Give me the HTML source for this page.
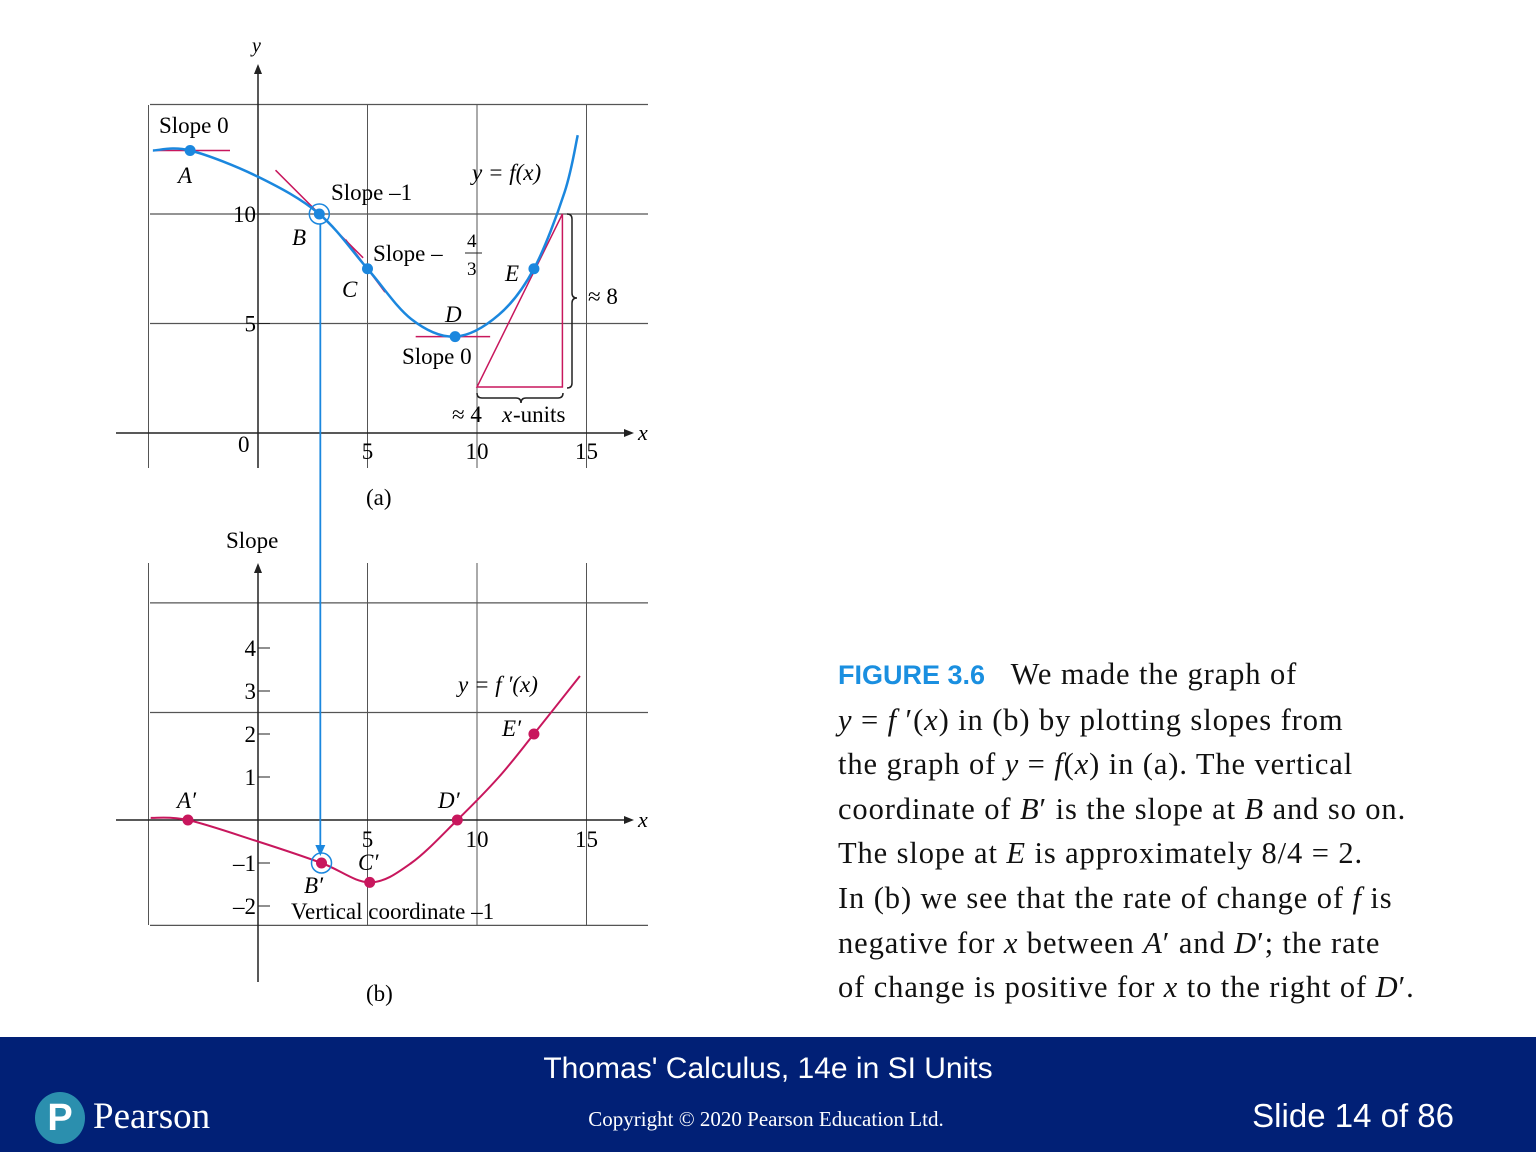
<!DOCTYPE html>
<html><head><meta charset="utf-8">
<style>
html,body{margin:0;padding:0;background:#fff;}
body{width:1536px;height:1152px;position:relative;overflow:hidden;font-family:"Liberation Serif",serif;}
svg text{font-family:"Liberation Serif",serif;}
#footer{position:absolute;left:0;top:1037px;width:1536px;height:115px;background:#012076;}
.cap{position:absolute;left:838px;top:652px;font-size:30.5px;letter-spacing:0.9px;line-height:44.6px;color:#111;white-space:nowrap;}
</style></head><body>
<svg id="chart" width="1536" height="1040" style="position:absolute;left:0;top:0">
<g id="gA"></g><g id="gB"></g>
</svg>
<div class="cap"><span style="font-family:'Liberation Sans',sans-serif;font-weight:bold;color:#1a8fe0;font-size:27px;letter-spacing:0">FIGURE 3.6</span>&nbsp;&nbsp;&nbsp;We made the graph of<br><i>y</i> = <i>f</i> ′(<i>x</i>) in (b) by plotting slopes from<br>the graph of <i>y</i> = <i>f</i>(<i>x</i>) in (a). The vertical<br>coordinate of <i>B</i>′ is the slope at <i>B</i> and so on.<br>The slope at <i>E</i> is approximately 8/4 = 2.<br>In (b) we see that the rate of change of <i>f</i> is<br>negative for <i>x</i> between <i>A</i>′ and <i>D</i>′; the rate<br>of change is positive for <i>x</i> to the right of <i>D</i>′.</div>
<div id="footer">
<div style="position:absolute;left:0;width:1536px;top:15px;text-align:center;color:#fff;font-family:'Liberation Sans',sans-serif;font-size:30px">Thomas' Calculus, 14e in SI Units</div>
<div style="position:absolute;left:0;width:1532px;top:70px;text-align:center;color:#fff;font-size:21px">Copyright © 2020 Pearson Education Ltd.</div>
<div style="position:absolute;right:82px;top:60px;color:#fff;font-family:'Liberation Sans',sans-serif;font-size:33px">Slide 14 of 86</div>
<div style="position:absolute;left:35px;top:55px;width:50px;height:52px;border-radius:50%;background:#2b8fae;color:#fff;font-family:'Liberation Sans',sans-serif;font-weight:bold;font-size:38px;text-align:center;line-height:52px">P</div>
<div style="position:absolute;left:93px;top:58px;color:#fff;font-size:37px">Pearson</div>
</div>
<script>
// panel (a) data: f(x)
const fX=[-4.8,-3.1,0,2.8,5,7,9,11,12.6,14,14.6];
const fY=[12.9,12.9,11.7,10,7.5,5.2,4.4,5.4,7.5,11,13.6];
// panel (b) data: f'(x)
const dX=[-4.9,-3.2,0,2.9,5.1,7,9.1,11,12.6,14.7];
const dY=[0.05,0,-0.5,-1,-1.45,-1,0,1,2,3.35];
const ptsA=[["A",-3.1,12.9],["B",2.8,10],["C",5,7.5],["D",9,4.4],["E",12.6,7.5]];
const ptsB=[["A′",-3.2,0],["B′",2.9,-1],["C′",5.1,-1.45],["D′",9.1,0],["E′",12.6,2]];
const xTicks=[5,10,15];
const yTicksA=[5,10];
const yTicksB=[-2,-1,1,2,3,4];

const NS="http://www.w3.org/2000/svg";
const X=v=>258+v*21.9;
const YA=v=>433-v*21.9;
const YB=v=>820-v*43;
function mk(p,t,a,txt){const e=document.createElementNS(NS,t);for(const k in a)e.setAttribute(k,a[k]);if(txt!==undefined)e.textContent=txt;p.appendChild(e);return e;}
function smooth(xs,ys,fx,fy){const P=xs.map((x,i)=>[fx(x),fy(ys[i])]);let d="M"+P[0][0]+","+P[0][1];for(let i=0;i<P.length-1;i++){const p0=P[Math.max(0,i-1)],p1=P[i],p2=P[i+1],p3=P[Math.min(P.length-1,i+2)];d+=" C"+(p1[0]+(p2[0]-p0[0])/6)+","+(p1[1]+(p2[1]-p0[1])/6)+" "+(p2[0]-(p3[0]-p1[0])/6)+","+(p2[1]-(p3[1]-p1[1])/6)+" "+p2[0]+","+p2[1];}return d;}
const gA=document.getElementById('gA'),gB=document.getElementById('gB');
const grid="#555",blue="#1b87de",red="#c8175d";
for(const gx of [-5,5,10,15]){const l=mk(gA,'line',{x1:X(gx),x2:X(gx),y1:105,y2:468,stroke:grid,'stroke-width':1});}
for(const gy of [5,10,15]){const l=mk(gA,'line',{x1:150,x2:648,y1:YA(gy),y2:YA(gy),stroke:grid,'stroke-width':1.3});}
let e=mk(gA,'line',{x1:116,x2:628,y1:433,y2:433,stroke:'#222','stroke-width':1.5});
mk(gA,'path',{d:'M634,433 l-10,-4 l0,8z',fill:'#222'});
e=mk(gA,'line',{x1:258,x2:258,y1:70,y2:468,stroke:'#222','stroke-width':1.5});
mk(gA,'path',{d:'M258,64 l-4,10 l8,0z',fill:'#222'});
mk(gA,'text',{x:252,y:52,'font-size':20,'font-style':'italic'},'y');
mk(gA,'text',{x:638,y:440,'font-size':22,'font-style':'italic'},'x');
mk(gA,'text',{x:238,y:452,'font-size':23},'0');
for(const t of xTicks){e=mk(gA,'text',{x:X(t),y:459,'font-size':23,'text-anchor':'middle'},String(t));}
for(const t of yTicksA){mk(gA,'line',{x1:258,x2:270,y1:YA(t),y2:YA(t),stroke:'#222'});e=mk(gA,'text',{x:256,y:YA(t)+8,'font-size':23,'text-anchor':'end'},String(t));}
mk(gA,'line',{x1:155,x2:230,y1:YA(12.9),y2:YA(12.9),stroke:red,'stroke-width':1.5});
mk(gA,'line',{x1:X(0.8),x2:X(4.8),y1:YA(12),y2:YA(8),stroke:red,'stroke-width':1.5});
mk(gA,'line',{x1:X(4),x2:X(5.8),y1:YA(8.83),y2:YA(6.43),stroke:red,'stroke-width':1.5});
mk(gA,'line',{x1:X(7.2),x2:X(10.6),y1:YA(4.4),y2:YA(4.4),stroke:red,'stroke-width':1.5});
mk(gA,'path',{d:`M${X(10)},${YA(2.1)} L${X(13.9)},${YA(10)} L${X(13.9)},${YA(2.1)} Z`,fill:'none',stroke:red,'stroke-width':1.5});
mk(gA,'path',{d:'M567,214 q5,0 5,5 v74 q0,5 5,5 q-5,0 -5,5 v80 q0,5 -5,5',fill:'none',stroke:'#222','stroke-width':1.5});
mk(gA,'path',{d:'M477,393 q0,5 5,5 h34 q5,0 5,5 q0,-5 5,-5 h32 q5,0 5,-5',fill:'none',stroke:'#222','stroke-width':1.5});
e=mk(gA,'path',{d:smooth(fX,fY,X,YA),fill:'none',stroke:blue,'stroke-width':2.5});
mk(gA,'circle',{cx:X(2.8),cy:YA(10),r:10,fill:'none',stroke:blue,'stroke-width':1.5});
for(const p of ptsA){e=mk(gA,'circle',{cx:X(p[1]),cy:YA(p[2]),r:5.5,fill:blue});}
const lab=(g,x,y,s,t,it)=>mk(g,'text',{x,y,'font-size':s,'font-style':it?'italic':'normal'},t);
lab(gA,159,133,23,'Slope 0');lab(gA,178,183,23,'A',1);lab(gA,331,200,23,'Slope –1');lab(gA,292,245,23,'B',1);
lab(gA,373,261,23,'Slope –');lab(gA,467,247,19,'4');mk(gA,'line',{x1:465,x2:482,y1:253,y2:253,stroke:'#222'});lab(gA,467,275,19,'3');
lab(gA,342,297,23,'C',1);lab(gA,505,281,23,'E',1);lab(gA,445,322,23,'D',1);lab(gA,402,364,23,'Slope 0');
lab(gA,588,304,23,'≈ 8');lab(gA,452,422,23,'≈ 4 ');lab(gA,502,422,23,'x',1);lab(gA,513,422,23,'-units');
lab(gA,472,180,23,'y = f(x)',1);lab(gA,366,505,23,'(a)');
lab(gB,226,548,23,'Slope');
for(const gx of [-5,5,10,15]){const l=mk(gB,'line',{x1:X(gx),x2:X(gx),y1:563,y2:925,stroke:grid,'stroke-width':1});}
for(const gy of [5.05,2.5,-2.45]){const l=mk(gB,'line',{x1:150,x2:648,y1:YB(gy),y2:YB(gy),stroke:grid,'stroke-width':1.3});}
e=mk(gB,'line',{x1:116,x2:628,y1:820,y2:820,stroke:'#222','stroke-width':1.5});
mk(gB,'path',{d:'M634,820 l-10,-4 l0,8z',fill:'#222'});
e=mk(gB,'line',{x1:258,x2:258,y1:570,y2:982,stroke:'#222','stroke-width':1.5});
mk(gB,'path',{d:'M258,563 l-4,10 l8,0z',fill:'#222'});
mk(gB,'text',{x:638,y:827,'font-size':22,'font-style':'italic'},'x');
for(const t of xTicks){e=mk(gB,'text',{x:X(t),y:847,'font-size':23,'text-anchor':'middle'},String(t));}
for(const t of yTicksB){mk(gB,'line',{x1:258,x2:270,y1:YB(t),y2:YB(t),stroke:'#222'});e=mk(gB,'text',{x:256,y:YB(t)+8,'font-size':23,'text-anchor':'end'},t<0?'–'+(-t):String(t));}
e=mk(gB,'path',{d:smooth(dX,dY,X,YB),fill:'none',stroke:red,'stroke-width':2});
mk(gB,'line',{x1:X(2.8)+1,x2:X(2.8)+1,y1:224,y2:850,stroke:blue,'stroke-width':1.8});
mk(gB,'path',{d:`M${X(2.8)+1},856 l-5,-11 l10,0z`,fill:blue});
mk(gB,'circle',{cx:X(2.9),cy:YB(-1),r:10,fill:'none',stroke:blue,'stroke-width':1.5});
for(const p of ptsB){e=mk(gB,'circle',{cx:X(p[1]),cy:YB(p[2]),r:5.5,fill:red});}
lab(gB,177,808,23,'A′',1);lab(gB,438,808,23,'D′',1);lab(gB,502,736,23,'E′',1);
lab(gB,358,870,23,'C′',1);lab(gB,304,893,23,'B′',1);lab(gB,291,919,23,'Vertical coordinate –1');
lab(gB,458,692,23,"y = f ′(x)",1);lab(gB,366,1001,23,'(b)');
</script>
</body></html>
